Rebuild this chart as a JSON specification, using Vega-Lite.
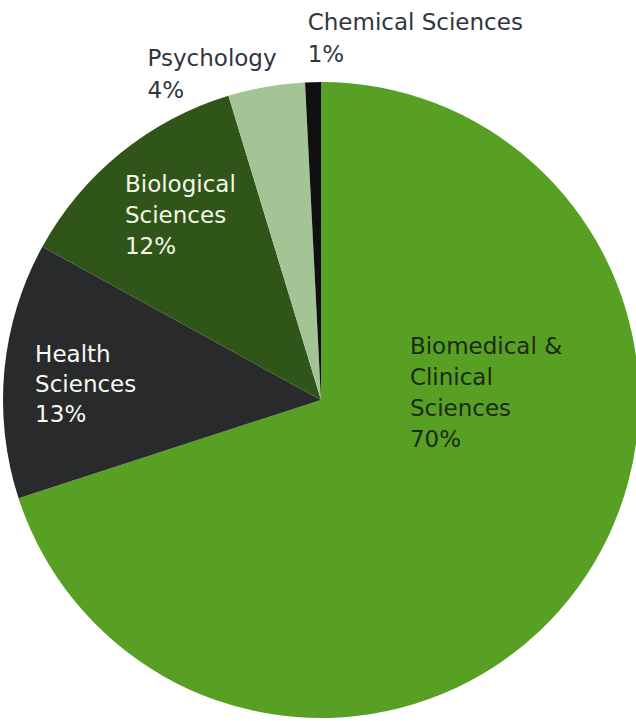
{
  "$schema": "https://vega.github.io/schema/vega-lite/v6.json",
  "width": 642,
  "height": 800,
  "padding": 0,
  "autosize": {"type": "none"},
  "background": "#ffffff",
  "config": {"view": {"stroke": null}, "text": {"font": "DejaVu Sans", "fontSize": 23, "lineBreak": "\n", "align": "left", "baseline": "alphabetic"}},
  "data": {"values": [
    {"rank": 1, "cat": "Biomedical & Clinical Sciences", "value": 70, "label": "Biomedical &\nClinical\nSciences\n70%"},
    {"rank": 2, "cat": "Health Sciences", "value": 13, "label": "Health\nSciences\n13%"},
    {"rank": 3, "cat": "Biological Sciences", "value": 12.3, "label": "Biological\nSciences\n12%"},
    {"rank": 4, "cat": "Psychology", "value": 3.9, "label": "Psychology\n4%"},
    {"rank": 5, "cat": "Chemical Sciences", "value": 0.8, "label": "Chemical Sciences\n1%"}
  ]},
  "encoding": {
    "theta": {"field": "value", "type": "quantitative", "stack": true},
    "order": {"field": "rank", "type": "quantitative", "sort": "ascending"},
    "color": {
      "field": "cat", "type": "nominal",
      "scale": {"domain": ["Biomedical & Clinical Sciences", "Health Sciences", "Biological Sciences", "Psychology", "Chemical Sciences"], "range": ["#58a024", "#282a2b", "#2f5618", "#a4c496", "#101010"]},
      "legend": null
    }
  },
  "layer": [
    {"mark": {"type": "arc", "outerRadius": 318}},
    {"mark": {"type": "text", "radius": 100, "dx": 8, "dy": -105, "lineHeight": 31},
     "encoding": {"fill": {"value": "#1c2a14"}, "text": {"condition": {"test": "datum.cat === 'Biomedical & Clinical Sciences'", "field": "label"}, "value": ""}}},
    {"mark": {"type": "text", "radius": 250, "dx": -37, "dy": -14, "lineHeight": 30},
     "encoding": {"fill": {"value": "#f8f8f2"}, "text": {"condition": {"test": "datum.cat === 'Health Sciences'", "field": "label"}, "value": ""}}},
    {"mark": {"type": "text", "radius": 200, "dx": -70, "dy": -53, "lineHeight": 31},
     "encoding": {"fill": {"value": "#f5f5e8"}, "text": {"condition": {"test": "datum.cat === 'Biological Sciences'", "field": "label"}, "value": ""}}},
    {"mark": {"type": "text", "radius": 340, "dx": -115, "dy": 1, "lineHeight": 32},
     "encoding": {"fill": {"value": "#303540"}, "text": {"condition": {"test": "datum.cat === 'Psychology'", "field": "label"}, "value": ""}}},
    {"mark": {"type": "text", "radius": 370, "dx": -4, "dy": 0, "lineHeight": 32},
     "encoding": {"fill": {"value": "#303540"}, "text": {"condition": {"test": "datum.cat === 'Chemical Sciences'", "field": "label"}, "value": ""}}}
  ]
}
